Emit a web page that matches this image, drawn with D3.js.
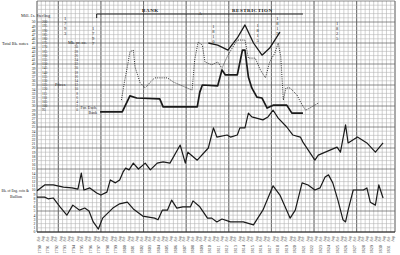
<!DOCTYPE html>
<html><head><meta charset="utf-8">
<script src="https://cdn.jsdelivr.net/npm/d3@7"></script>
<style>html,body{margin:0;padding:0;background:#fff;}svg{display:block;}</style>
</head><body>
<svg id="c" width="400" height="255"></svg>
<script>
// ---------- data ----------
const years = d3.range(1790, 1832);
const halfLabels = ["Feb", "Aug"];
const leftTicks = d3.range(0, 51);
const priceScaleLabels = d3.range(200, 90, -5);      // rows 50 .. 29
const exchScaleLabels = d3.range(30, -1, -2);        // rows 44 .. 29

const notesDates = [1790.0,1790.9,1791.9,1793.1,1794.1,1794.8,1795.2,1795.5,1796.2,1797.0,1797.5,1798.2,1798.6,1799.2,1799.7,1800.1,1800.4,1800.8,1801.3,1801.9,1802.7,1803.3,1804.1,1804.8,1805.6,1806.8,1807.4,1807.7,1808.8,1810.1,1810.7,1811.1,1812.3,1812.7,1813.5,1813.8,1814.4,1814.8,1815.2,1816.5,1817.1,1817.7,1818.3,1819.3,1820.0,1820.9,1821.2,1822.6,1823.0,1825.2,1825.6,1826.2,1826.5,1827.6,1828.7,1829.7,1830.6];
const notesValues = [9.8,11.2,11.2,10.7,10.5,10.2,14.0,10.0,10.5,9.3,8.8,9.5,12.4,11.7,12.4,14.3,15.2,14.8,16.4,15.0,16.4,14.8,16.4,16.7,16.4,20.7,16.4,19.0,17.1,20.0,24.8,22.6,23.1,22.6,23.1,24.8,24.8,28.3,27.4,26.7,27.4,29.0,27.1,25.0,23.1,22.6,21.4,17.1,18.3,20.2,19.0,25.5,21.2,22.6,21.2,19.0,21.2];

const bullionDates = [1790.0,1790.9,1791.3,1791.9,1792.7,1793.5,1794.2,1795.0,1795.6,1796.1,1796.6,1797.2,1797.7,1798.3,1798.9,1799.7,1800.6,1801.3,1802.4,1803.8,1804.2,1804.7,1805.3,1805.8,1806.4,1807.1,1808.0,1808.3,1809.1,1810.0,1810.5,1811.1,1811.7,1812.7,1814.2,1815.4,1815.9,1816.5,1817.1,1817.7,1818.5,1819.7,1820.3,1821.1,1821.8,1822.6,1823.2,1823.8,1824.2,1824.7,1825.3,1825.9,1826.2,1826.5,1827.1,1828.3,1828.7,1829.1,1829.7,1830.1,1830.6];
const bullionValues = [8.3,8.3,7.9,8.1,6.0,4.0,6.4,5.2,5.7,5.0,2.4,0.7,3.3,4.5,5.7,6.7,7.1,5.5,3.8,3.3,2.9,5.2,5.2,7.6,5.7,6.0,6.0,7.4,6.0,3.3,3.3,2.4,3.1,2.4,2.4,1.7,3.3,5.2,8.1,11.0,8.8,3.3,5.2,11.7,11.2,10.0,10.5,13.1,13.6,11.7,7.6,2.9,2.4,5.2,10.0,10.0,10.5,7.1,6.4,11.2,8.1];

const exchDates = [1797.4,1800.0,1800.9,1801.7,1804.4,1804.8,1808.8,1809.1,1809.4,1811.2,1811.7,1812.1,1813.5,1814.1,1814.4,1814.8,1815.2,1815.8,1816.4,1817.0,1817.7,1819.3,1819.9,1821.2];
const exchValues = [28.6,28.6,32.4,31.9,31.7,29.8,29.8,33.3,35.0,34.8,38.6,37.4,37.4,43.3,43.3,36.9,34.3,32.1,31.9,29.5,30.2,30.2,28.3,28.3];

const goldDates = [1810.1,1811.2,1812.4,1813.5,1814.4,1815.4,1816.4,1817.3,1817.9,1818.5];
const goldValues = [45.0,44.5,43.3,46.2,49.3,45.0,42.1,43.8,45.7,47.6];

const priceDates = [1799.9,1800.3,1800.6,1800.9,1801.3,1801.5,1802.1,1802.7,1803.3,1803.8,1805.3,1806.0,1806.8,1807.6,1808.2,1808.5,1808.9,1809.4,1809.7,1810.5,1811.2,1811.7,1812.3,1812.9,1813.5,1814.4,1814.8,1815.6,1816.2,1816.8,1817.3,1817.9,1818.3,1818.6,1818.9,1819.2,1819.7,1820.5,1820.9,1821.5,1822.0,1823.0];
const priceValues = [31.4,36.2,39.3,42.9,43.3,39.3,35.5,34.3,35.7,36.7,36.7,35.7,35.0,34.3,33.8,41.0,45.2,44.5,40.5,39.8,40.5,39.0,41.7,43.8,45.7,45.7,41.4,41.4,38.6,36.7,40.5,42.6,45.0,41.7,31.4,34.3,34.3,32.6,31.0,29.0,29.5,30.7];

const eventYears = ["1793","1797","1810","1815","1819","1825"];
const eventDates = [1793.3,1796.6,1810.7,1815.9,1818.2,1825.2];
const restrictionSpan = [1797.0, 1821.2];

// ---------- drawing ----------
const svg = d3.select("#c");
const FONT = "Liberation Serif, DejaVu Serif, serif";
const x = d3.scaleLinear().domain([1790, 1832]).range([37, 395]);
const y = d3.scaleLinear().domain([0, 55]).range([232, 1]);
const ink = "#1a1a1a";

const grid = svg.append("g");
d3.range(0, 85).forEach(k => {
  const d = 1790 + k / 2;
  grid.append("line").attr("x1", x(d)).attr("x2", x(d)).attr("y1", y(55)).attr("y2", y(0))
    .attr("stroke", "#ababab").attr("stroke-width", 0.55);
});
[1790, 1832].concat(d3.range(1792.5, 1832, 5)).forEach(d => {
  grid.append("line").attr("x1", x(d)).attr("x2", x(d)).attr("y1", y(55)).attr("y2", y(0))
    .attr("stroke", "#555").attr("stroke-width", 0.85);
});
d3.range(0, 56).forEach(v => {
  const heavy = v % 5 === 0;
  grid.append("line").attr("x1", x(1790)).attr("x2", x(1832)).attr("y1", y(v)).attr("y2", y(v))
    .attr("stroke", heavy ? "#666" : "#b2b2b2").attr("stroke-width", heavy ? 0.75 : 0.55);
});
grid.append("line").attr("x1", x(1790)).attr("x2", x(1832)).attr("y1", y(0)).attr("y2", y(0))
  .attr("stroke", "#222").attr("stroke-width", 1.1);

svg.append("g").selectAll("text").data(leftTicks).join("text")
  .attr("x", 35.5).attr("y", d => y(d)).attr("dy", "0.35em")
  .attr("text-anchor", "end").attr("font-family", FONT).attr("font-size", 3.8)
  .attr("fill", ink).text(d => d);

svg.append("g").selectAll("text").data(priceScaleLabels).join("text")
  .attr("x", 42).attr("y", (d, i) => y(50 - i)).attr("dy", "0.35em")
  .attr("font-family", FONT).attr("font-size", 3.5).attr("fill", "#333").text(d => d);

svg.append("g").selectAll("text").data(exchScaleLabels).join("text")
  .attr("x", 78).attr("y", (d, i) => y(44 - i)).attr("dy", "0.35em").attr("text-anchor", "end")
  .attr("font-family", FONT).attr("font-size", 3.5).attr("fill", "#333").text(d => d);

const lab = (t, lx, ly, fs, anchor, weight) => svg.append("text").attr("x", lx).attr("y", ly)
  .attr("font-family", FONT).attr("font-size", fs).attr("fill", ink)
  .attr("text-anchor", anchor || "start").attr("font-weight", weight || "normal").text(t);
lab("Mill. £s. Sterling", 21, 16.5, 4.3);
lab("Total Bk. notes", 2, 44.5, 4.3);
lab("Mk. pr. oz.", 68, 43.5, 4.3);
lab("Prices", 55, 85.5, 4.3);
lab("For. Exch.", 97, 108.5, 4.0, "end");
lab("Bank", 97, 114, 4.0, "end");
lab("Bk. of Eng. coin &", 1.5, 191.5, 3.6);
lab("Bullion", 16, 197.5, 4.0, "middle");

svg.append("line").attr("x1", x(restrictionSpan[0])).attr("x2", x(restrictionSpan[1]))
  .attr("y1", 14).attr("y2", 14).attr("stroke", ink).attr("stroke-width", 1);
svg.append("line").attr("x1", x(restrictionSpan[0])).attr("x2", x(restrictionSpan[0]))
  .attr("y1", 14).attr("y2", 18).attr("stroke", ink).attr("stroke-width", 1);
lab("BANK", 142, 12, 5, "start", "bold").attr("letter-spacing", 0.6);
lab("A", 200, 14.5, 4.5, "middle");
lab("RESTRICTION", 232, 12, 5, "start", "bold").attr("letter-spacing", 0.5);

const eventTop = [16, 26, 24, 23, 16, 21];
eventYears.forEach((t, i) => {
  const g = svg.append("text").attr("font-family", FONT).attr("font-size", 4.6)
    .attr("fill", ink).attr("text-anchor", "middle");
  t.split("").forEach((ch, j) => {
    g.append("tspan").attr("x", x(eventDates[i])).attr("y", eventTop[i] + 3.5 + j * 5).text(ch);
  });
});

const zip = (ds, vs) => ds.map((d, i) => [d, vs[i]]);
const line = d3.line().x(d => x(d[0])).y(d => y(d[1]));
const drawSeries = (data, w, dash) => svg.append("path").datum(data).attr("d", line)
  .attr("fill", "none").attr("stroke", ink).attr("stroke-width", w)
  .attr("stroke-linejoin", "round").attr("stroke-dasharray", dash || null);
drawSeries(zip(priceDates, priceValues), 0.9, "1,1.2");
drawSeries(zip(bullionDates, bullionValues), 1.2);
drawSeries(zip(notesDates, notesValues), 1.2);
drawSeries(zip(exchDates, exchValues), 1.7);
drawSeries(zip(goldDates, goldValues), 1.3);

const bot = svg.append("g");
d3.range(0, 84).forEach(k => {
  const d = 1790 + k / 2 + 0.25;
  bot.append("text").attr("transform", `translate(${x(d) + 1.1},${241.5}) rotate(-90)`)
    .attr("font-family", FONT).attr("font-size", 3.2).attr("font-style", "italic")
    .attr("fill", "#333").text(halfLabels[k % 2]);
});
years.forEach(yr => {
  bot.append("text").attr("transform", `translate(${x(yr) + 3.6},${253.5}) rotate(-90)`)
    .attr("font-family", FONT).attr("font-size", 4.2).attr("fill", "#333").text(yr);
});
</script>
</body></html>
